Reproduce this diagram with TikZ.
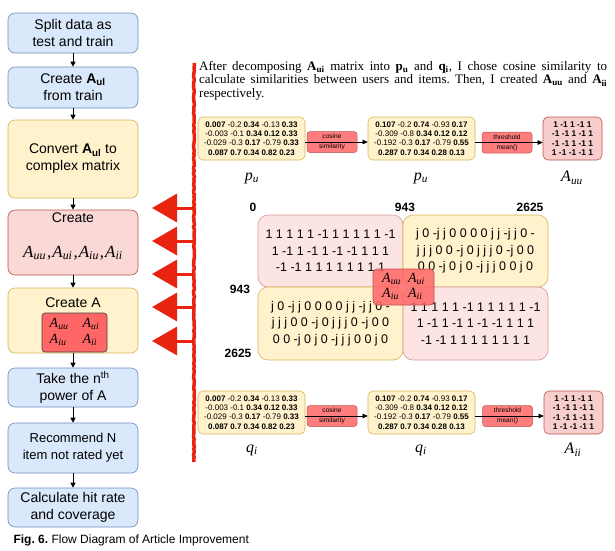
\documentclass[tikz,border=0pt]{standalone}
\usepackage{fontspec}
\setmainfont{Liberation Serif}
\setsansfont{Liberation Sans}
\usetikzlibrary{arrows.meta,decorations.pathmorphing}
\definecolor{bluef}{HTML}{DAE8FC}
\definecolor{bluel}{HTML}{6C8EBF}
\definecolor{yelf}{HTML}{FFF2CC}
\definecolor{yell}{HTML}{D6B656}
\definecolor{pinkf}{HTML}{F8CECC}
\definecolor{pinkl}{HTML}{B85450}
\definecolor{lpinkf}{HTML}{FCE4E3}
\definecolor{redf}{HTML}{FF6666}
\definecolor{sketch}{HTML}{E8230F}
\frenchspacing
\newcommand\Ai[2]{\textit{#1}\textsubscript{\textit{#2}}}
\newcommand\matPQa{\textbf{0.007} -0.2 \textbf{0.34} -0.13 \textbf{0.33}\\ -0.003 -0.1 \textbf{0.34 0.12 0.33}\\ -0.029 -0.3 \textbf{0.17} -0.79 \textbf{0.33}\\ \textbf{0.087 0.7 0.34 0.82 0.23}}
\newcommand\matPQb{\textbf{0.107} -0.2 \textbf{0.74} -0.93 \textbf{0.17}\\ -0.309 -0.8 \textbf{0.34 0.12 0.12}\\ -0.192 -0.3 \textbf{0.17} -0.79 \textbf{0.55}\\ \textbf{0.287 0.7 0.34 0.28 0.13}}
\newcommand\matSgn{\textbf{1 -1 1 -1 1}\\ \textbf{-1 -1 1 -1 1}\\ \textbf{-1 -1 1 -1 1}\\ \textbf{1 -1 -1 -1 1}}
\newcommand\blkOnes{1 1 1 1 1 -1 1 1 1 1 1 -1\\ 1 -1 1 -1 1 -1 -1 1 1 1\\ -1 -1 1 1 1 1 1 1 1 1}
\newcommand\blkJs{j 0 -j j 0 0 0 0 j j -j j 0 -\\ j j j 0 0 -j 0 j j j 0 -j 0 0\\ 0 0 -j 0 j 0 -j j j 0 0 j 0}
\begin{document}
\begin{tikzpicture}[x=1pt,y=-1pt,
  flow/.style={draw, rounded corners=7pt, line width=0.6pt, minimum width=130pt, inner sep=0pt, align=center, font=\sffamily\fontsize{14}{17}\selectfont},
  bluebox/.style={flow, fill=bluef, draw=bluel},
  yelbox/.style={flow, fill=yelf, draw=yell},
  pinkbox/.style={flow, fill=pinkf!80!white, draw=pinkl},
  flowarrow/.style={-{Triangle[length=5pt,width=5pt]}, line width=0.8pt},
  mat/.style={draw=yell, fill=yelf, rounded corners=5pt, line width=0.6pt, minimum width=107pt, minimum height=43pt, inner sep=0pt, align=center, font=\sffamily\fontsize{8}{9.4}\selectfont},
  sgn/.style={draw=pinkl, fill=pinkf, rounded corners=5pt, line width=0.6pt, minimum width=59pt, minimum height=43pt, inner sep=0pt, align=center, font=\sffamily\fontsize{8.4}{9.4}\selectfont},
  op/.style={draw=pinkl, fill=redf!85!white, rounded corners=3pt, line width=0.5pt, minimum width=50pt, minimum height=21pt, inner sep=0pt, align=center, font=\sffamily\fontsize{6.6}{10}\selectfont},
  oparrow/.style={-{Triangle[length=5pt,width=4.5pt]}, line width=0.5pt},
  mlabel/.style={font=\fontsize{16}{18}\selectfont},
  blk/.style={rounded corners=10pt, line width=0.6pt, minimum width=145pt, minimum height=72pt, inner sep=0pt, align=center, font=\sffamily\fontsize{12.5}{16.5}\selectfont},
  idx/.style={font=\sffamily\bfseries\fontsize{12}{14}\selectfont},
  rough/.style={decorate, decoration={random steps, segment length=2pt, amplitude=0.5pt}},
  redarm/.style={draw=sketch, line width=3pt, -{Triangle[length=25pt,width=28pt]}}
]
\useasboundingbox (0,0) rectangle (615,550);

% ---- left flow column ----
\node[bluebox, minimum height=40pt] (b1) at (73,33) {Split data as\\test and train};
\node[bluebox, minimum height=41pt] (b2) at (73,87.5) {Create \textbf{A\textsubscript{ul}}\\from train};
\node[yelbox, minimum height=78pt] (b3) at (73,159) {Convert \textbf{A\textsubscript{ul}} to\\complex matrix};
\node[pinkbox, minimum height=65pt] (b4) at (73,242.5) {};
\node[font=\sffamily\fontsize{14}{17}\selectfont] (b4t) at (73,218) {Create};
\node[font=\fontsize{17}{19}\selectfont] (b4m) at (73,253) {\Ai{A}{uu}\kern1pt,\kern1pt\Ai{A}{ui}\kern1pt,\kern1pt\Ai{A}{iu}\kern1pt,\kern1pt\Ai{A}{ii}};
\node[yelbox, minimum height=65pt] (b5) at (73,320.5) {};
\node[font=\sffamily\fontsize{14}{17}\selectfont] (b5t) at (73,303) {Create A};
\node[draw=black!75, fill=redf, rounded corners=3pt, line width=0.6pt, minimum width=65pt, minimum height=39pt, inner sep=0pt, font=\fontsize{14}{15}\selectfont] (b5m) at (74.5,332.5)
  {\begin{tabular}{@{}l@{\hspace{14pt}}l@{}}\Ai{A}{uu} & \Ai{A}{ui}\\[1pt] \Ai{A}{iu} & \Ai{A}{ii}\end{tabular}};
\node[bluebox, minimum height=39pt] (b6) at (73,387.5) {Take the n\textsuperscript{th}\\power of A};
\node[bluebox, minimum height=50pt, font=\sffamily\fontsize{13}{17}\selectfont] (b7) at (73,448) {Recommend N\\item not rated yet};
\node[bluebox, minimum height=39pt] (b8) at (73,507.5) {Calculate hit rate\\and coverage};
\foreach \a/\b in {b1/b2,b2/b3,b3/b4,b4/b5,b5/b6,b6/b7,b7/b8}
  \draw[flowarrow] (\a.south) -- (\b.north);

\node[anchor=base west, font=\sffamily\fontsize{12}{14}\selectfont] (cap) at (10,543) {\textbf{Fig. 6.} Flow Diagram of Article Improvement};

% ---- paragraph ----
\node[anchor=north west, inner sep=0pt, text width=408pt, align=justify, font=\fontsize{13}{13.5}\selectfont] (para) at (199,61)
  {After decomposing \textbf{A\textsubscript{ui}} matrix into \textbf{p\textsubscript{u}} and \textbf{q\textsubscript{i}}, I chose cosine similarity to\linebreak calculate similarities between users and items. Then, I created \textbf{A\textsubscript{uu}} and \textbf{A\textsubscript{ii}}\linebreak respectively.};

% ---- top row ----
\node[mat] (m1) at (251.5,138.5) {\matPQa};
\node[mat] (m2) at (421.5,138.5) {\matPQb};
\node[sgn] (s1) at (572.5,138.5) {\matSgn};
\node[op] (c1) at (332,142) {cosine\\similarity};
\node[op] (t1) at (507,142.5) {threshold\\mean()};
\draw[oparrow] (m1.east |- c1.center) -- (m2.west |- c1.center);
\draw[oparrow] (m2.east |- t1.center) -- (s1.west |- t1.center);
\node[mlabel] (l1) at (252,178) {\Ai{p}{u}};
\node[mlabel] (l2) at (421,178) {\Ai{p}{u}};
\node[mlabel] (l3) at (572,178) {\Ai{A}{uu}};

% ---- bottom row ----
\node[mat] (m3) at (251.5,412.5) {\matPQa};
\node[mat] (m4) at (421.5,412.5) {\matPQb};
\node[sgn] (s2) at (573.5,412.5) {\matSgn};
\node[op] (c2) at (332,416) {cosine\\similarity};
\node[op] (t2) at (507.5,416) {threshold\\mean()};
\draw[oparrow] (m3.east |- c2.center) -- (m4.west |- c2.center);
\draw[oparrow] (m4.east |- t2.center) -- (s2.west |- t2.center);
\node[mlabel] (l4) at (252,450) {\Ai{q}{i}};
\node[mlabel] (l5) at (421,450) {\Ai{q}{i}};
\node[mlabel] (l6) at (573,450) {\Ai{A}{ii}};

% ---- big block matrix ----
\node[blk, draw=pinkl!60, fill=lpinkf] (tl) at (330.5,251) {\blkOnes};
\node[blk, draw=yell, fill=yelf] (tr) at (475.5,251) {\blkJs};
\node[blk, draw=yell, fill=yelf, minimum height=73pt] (bl) at (330.5,323.5) {\blkJs};
\node[blk, draw=pinkl!60, fill=lpinkf, minimum height=73pt] (br) at (475.5,323.5) {\blkOnes};
\node[draw=pinkl, fill=redf, fill opacity=0.85, text opacity=1, rounded corners=4pt, line width=0.6pt, minimum width=61pt, minimum height=36pt, inner sep=0pt, font=\fontsize{14}{15}\selectfont] (ov) at (403.5,287)
  {\begin{tabular}{@{}l@{\hspace{7pt}}l@{}}\Ai{A}{uu} & \Ai{A}{ui}\\[0pt] \Ai{A}{iu} & \Ai{A}{ii}\end{tabular}};
\node[idx] (i0) at (253,207) {0};
\node[idx] (i1) at (405,207) {943};
\node[idx] (i2) at (530,207) {2625};
\node[idx] (i3) at (240,289) {943};
\node[idx] (i4) at (238,353) {2625};

% ---- red sketch ----
\coordinate (rt) at (194,63);
\coordinate (rb) at (194,462);
\draw[sketch, line width=3.5pt, rough] (rt) -- (rb);
\foreach \i/\y in {1/208,2/241,3/274,4/307,5/341}{
  \coordinate (ra\i) at (194,\y);
  \coordinate (re\i) at (152,\y);
  \draw[redarm] (ra\i) -- (re\i);
}
\end{tikzpicture}
\end{document}
